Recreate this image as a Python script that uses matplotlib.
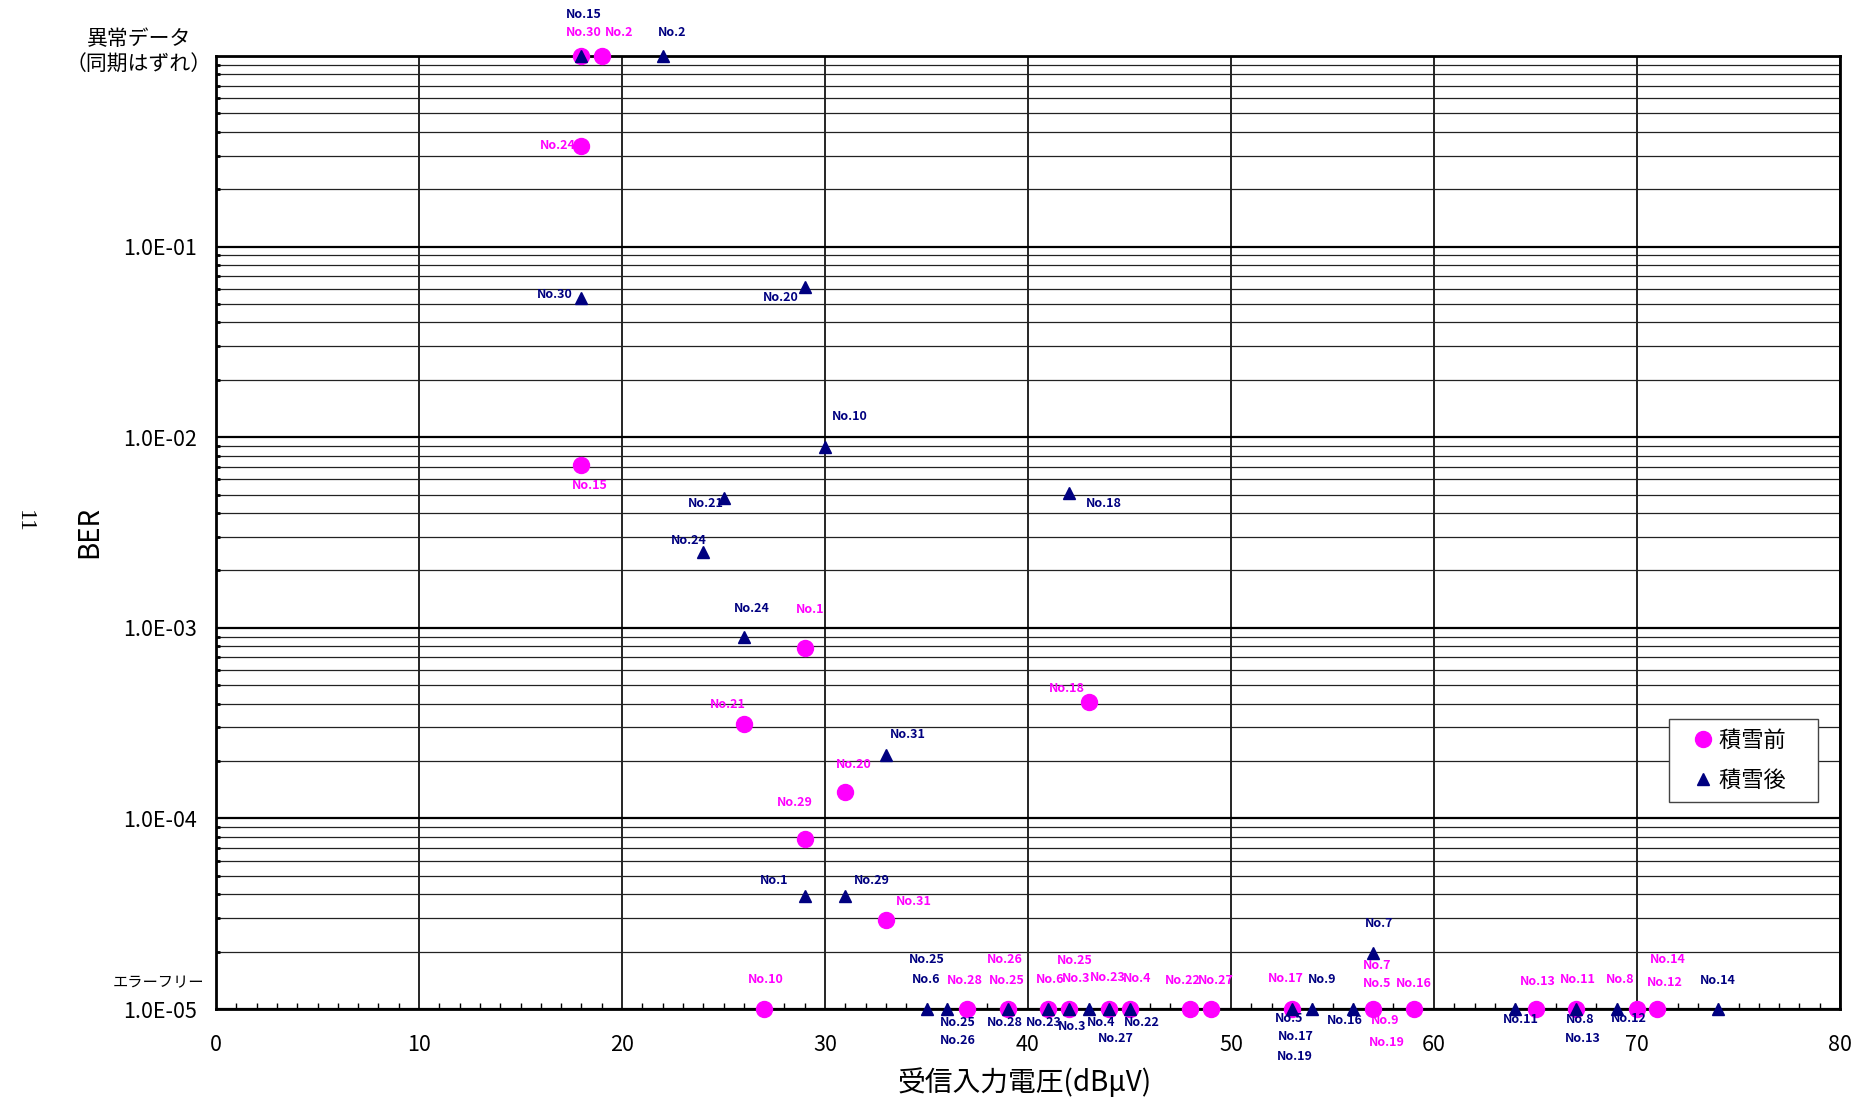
import numpy as np
import matplotlib
matplotlib.use("Agg")
import matplotlib.pyplot as plt
from matplotlib.ticker import FixedLocator, LogLocator, NullFormatter, MultipleLocator

plt.rcParams['font.family'] = ['Noto Sans CJK JP', 'DejaVu Sans']

## Data ###############################################################
# BER = 1.0 means "異常データ(同期はずれ)", BER = 1e-5 means "エラーフリー"
# 積雪前 (before snow)
before_x   = [18, 19, 18, 18, 29, 26, 43, 31, 29, 33,
              27, 37, 39, 41, 42, 44, 45, 48, 49, 53, 57, 59, 65, 67, 70, 71]
before_ber = [1.0, 1.0, 0.338, 7.15e-3, 7.8e-4, 3.13e-4, 4.08e-4, 1.38e-4, 7.8e-5, 2.93e-5,
              1e-5, 1e-5, 1e-5, 1e-5, 1e-5, 1e-5, 1e-5, 1e-5, 1e-5, 1e-5, 1e-5, 1e-5, 1e-5, 1e-5, 1e-5, 1e-5]
before_no  = [["No.30"], ["No.2"], ["No.24"], ["No.15"], ["No.1"], ["No.21"], ["No.18"], ["No.20"], ["No.29"], ["No.31"],
              ["No.10"], ["No.28"], ["No.26", "No.25"], ["No.6"], ["No.25", "No.3"], ["No.23"], ["No.4"],
              ["No.22"], ["No.27"], ["No.17"], ["No.7", "No.5", "No.9", "No.19"], ["No.16"], ["No.13"],
              ["No.11"], ["No.8"], ["No.14", "No.12"]]
# 積雪後 (after snow)
after_x   = [18, 22, 18, 29, 30, 25, 42, 24, 26, 33, 29, 31, 57,
             35, 36, 39, 41, 42, 43, 44, 45, 53, 54, 56, 64, 67, 69, 74]
after_ber = [1.0, 1.0, 0.054, 0.0614, 8.9e-3, 4.78e-3, 5.07e-3, 2.51e-3, 8.98e-4, 2.15e-4, 3.92e-5, 3.92e-5, 1.96e-5,
             1e-5, 1e-5, 1e-5, 1e-5, 1e-5, 1e-5, 1e-5, 1e-5, 1e-5, 1e-5, 1e-5, 1e-5, 1e-5, 1e-5, 1e-5]
after_no  = [["No.15"], ["No.2"], ["No.30"], ["No.20"], ["No.10"], ["No.21"], ["No.18"], ["No.24"], ["No.24"],
             ["No.31"], ["No.1"], ["No.29"], ["No.7"],
             ["No.25", "No.6"], ["No.25", "No.26"], ["No.28"], ["No.23"], ["No.3"], ["No.4"], ["No.27"],
             ["No.22"], ["No.5", "No.17", "No.19"], ["No.9"], ["No.16"], ["No.11"], ["No.8", "No.13"],
             ["No.12"], ["No.14"]]
x_ticks = [0, 10, 20, 30, 40, 50, 60, 70, 80]
y_ticks = [1e-5, 1e-4, 1e-3, 1e-2, 1e-1, 1e0]
y_ticklabels = ['1.0E-05', '1.0E-04', '1.0E-03', '1.0E-02', '1.0E-01', '']

# label offsets (pixels) for each point's labels
before_off = [[(2, 23)], [(17, 23)], [(-24, 0)], [(8, -21)], [(5, 39)], [(-16, 19)], [(-22, 14)], [(8, 27)],
              [(-10, 36)], [(28, 19)],
              [(2, 30)], [(-2, 29)], [(-3, 50), (-1, 29)], [(2, 30)], [(6, 49), (8, 31)], [(-1, 32)], [(8, 31)],
              [(-8, 29)], [(5, 29)], [(-6, 31)], [(4, 44), (4, 26), (12, -12), (14, -34)], [(0, 26)],
              [(2, 28)], [(2, 30)], [(-17, 30)], [(11, 50), (8, 27)]]
after_off = [[(2, 42)], [(10, 24)], [(-27, 3)], [(-24, -11)], [(25, 30)], [(-18, -5)], [(35, -10)], [(-14, 11)],
             [(8, 28)], [(22, 21)], [(-31, 15)], [(27, 15)], [(6, 30)],
             [(0, 50), (0, 30)], [(11, -13), (11, -31)], [(-3, -13)], [(-4, -13)], [(4, -17)], [(12, -13)],
             [(7, -30)], [(12, -13)], [(-3, -9), (4, -27), (3, -48)], [(10, 30)], [(-8, -12)], [(6, -10)],
             [(4, -10), (7, -29)], [(12, -9)], [(0, 29)]]

MAG  = '#FF00FF'
NAVY = '#000080'

## Plot ###############################################################
fig = plt.figure(figsize=(18.68, 11.02), dpi=100)
ax = fig.add_axes([216/1868, 1-1009/1102, 1624/1868, 953/1102])
ax.set_yscale('log')
ax.set_xlim(0, 80)
ax.set_ylim(1e-5, 1e0)

# grid
ax.yaxis.set_minor_locator(LogLocator(base=10, subs=np.arange(2, 10)))
ax.yaxis.set_minor_formatter(NullFormatter())
ax.xaxis.set_minor_locator(MultipleLocator(1))
ax.grid(True, which='major', axis='y', color='black', lw=1.6)
ax.grid(True, which='minor', axis='y', color='#222222', lw=0.9)
ax.grid(True, which='major', axis='x', color='black', lw=1.2)
ax.set_axisbelow(True)

ax.plot(before_x, before_ber, 'o', color=MAG, ms=11.5, mec=MAG, clip_on=False, zorder=5, label='積雪前\u3000')
ax.plot(after_x, after_ber, '^', color=NAVY, ms=8, mec=NAVY, clip_on=False, zorder=6, label='積雪後\u3000')

for xs, ys, names, offs, c in [(before_x, before_ber, before_no, before_off, MAG),
                               (after_x, after_ber, after_no, after_off, NAVY)]:
    for i in range(len(xs)):
        for name, (dx, dy) in zip(names[i], offs[i]):
            ax.annotate(name, (xs[i], ys[i]), xytext=(dx, dy), textcoords='offset pixels',
                        ha='center', va='center', fontsize=9, fontweight='bold', color=c,
                        annotation_clip=False, zorder=7)

ax.set_xticks(x_ticks)
ax.set_xticklabels([str(v) for v in x_ticks])
ax.yaxis.set_major_locator(FixedLocator(y_ticks))
ax.set_yticklabels(y_ticklabels)
ax.tick_params(axis='both', which='major', labelsize=15.5, length=0)
ax.tick_params(axis='y', which='major', pad=14)
ax.tick_params(axis='x', which='major', pad=18)
ax.tick_params(axis='x', which='minor', direction='in', length=4, width=1, top=False)
ax.tick_params(axis='y', which='minor', direction='in', length=3, width=2)
for s in ax.spines.values():
    s.set_linewidth(2)
    s.set_color('black')

# special y labels
fig.text(139/1868, 1-39/1102, '異常データ', ha='center', va='center', fontsize=15)
fig.text(139/1868, 1-65/1102, '（同期はずれ）', ha='center', va='center', fontsize=15)
fig.text(158/1868, 1-983/1102, 'エラーフリー', ha='center', va='center', fontsize=11)

fig.text(89/1868, 1-532/1102, 'BER', rotation=90, ha='center', va='center', fontsize=20)
fig.text(24/1868, 1-521/1102, '11', rotation=-90, ha='center', va='center', fontsize=17,
         family='Liberation Serif')
fig.text(1025/1868, 1-1083/1102, '受信入力電圧(dBμV)', ha='center', va='center', fontsize=20)

leg = ax.legend(loc='upper left', bbox_to_anchor=(1669/1868, 1-719/1102), bbox_transform=fig.transFigure,
                fontsize=16, frameon=True, fancybox=False, framealpha=1, edgecolor='#444444',
                borderpad=0.45, labelspacing=0.75, handlelength=2.2, handletextpad=-0.4, borderaxespad=0)
leg.get_frame().set_linewidth(1)

plt.savefig('out.png', dpi=100)
